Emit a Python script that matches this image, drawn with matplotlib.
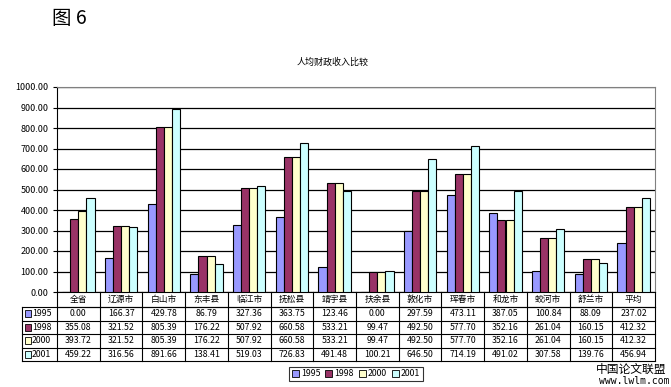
import matplotlib.pyplot as plt
import matplotlib.patches as mpatches
import numpy as np

plt.rcParams['font.family'] = ['Noto Sans CJK SC', 'DejaVu Sans']

# data
regions = ['全省', '辽源市', '白山市', '东丰县', '临江市', '抚松县', '靖宇县',
           '扶余县', '敦化市', '珲春市', '和龙市', '蛟河市', '舒兰市', '平均']
years = ['1995', '1998', '2000', '2001']
v1995 = [0.00, 166.37, 429.78, 86.79, 327.36, 363.75, 123.46,
         0.00, 297.59, 473.11, 387.05, 100.84, 88.09, 237.02]
v1998 = [355.08, 321.52, 805.39, 176.22, 507.92, 660.58, 533.21,
         99.47, 492.50, 577.70, 352.16, 261.04, 160.15, 412.32]
v2000 = [393.72, 321.52, 805.39, 176.22, 507.92, 660.58, 533.21,
         99.47, 492.50, 577.70, 352.16, 261.04, 160.15, 412.32]
v2001 = [459.22, 316.56, 891.66, 138.41, 519.03, 726.83, 491.48,
         100.21, 646.50, 714.19, 491.02, 307.58, 139.76, 456.94]
series = [v1995, v1998, v2000, v2001]
colors = ['#9999FF', '#993366', '#FFFFCC', '#CCFFFF']

W, H = 671, 387
fig = plt.figure(figsize=(W / 100, H / 100), dpi=100)
fig.patch.set_facecolor('white')
ax = fig.add_axes([57 / W, (H - 292) / H, 598 / W, 205 / H])

n = len(regions)
x = np.arange(n)
bw = 0.19
for k, (vals, c) in enumerate(zip(series, colors)):
    ax.bar(x + (k - 1.5) * bw, vals, bw, color=c, edgecolor='black',
           linewidth=0.8, zorder=3)

ax.set_xlim(-0.5, n - 0.5)
ax.set_ylim(0, 1000)
ax.set_yticks(np.arange(0, 1001, 100))
ax.set_yticklabels([f'{t:.2f}' for t in np.arange(0, 1001, 100)], fontsize=6.5)
ax.set_xticks([])
ax.grid(axis='y', color='black', linewidth=0.9, zorder=0)
ax.tick_params(axis='y', length=3, pad=3)
ax.spines['top'].set_color('#808080')
ax.spines['right'].set_color('#808080')
ax.spines['left'].set_color('black')
ax.spines['bottom'].set_color('black')

# data table under the plot (axes fraction coords)
def fy(p):
    return (292 - p) / 205.0

rows_y = [292, 307, 320.5, 334, 347.5, 361]
left = (22 - 57) / 598.0
tr = ax.transAxes
lk = dict(transform=tr, color='black', linewidth=0.8, clip_on=False)
# horizontal lines
ax.plot([0, 1], [fy(rows_y[1])] * 2, **lk)
for yy in rows_y[1:]:
    ax.plot([left, 1], [fy(yy)] * 2, **lk)
# vertical lines
for i in range(n + 1):
    ax.plot([i / n, i / n], [0, fy(rows_y[-1])], **lk)
ax.plot([left, left], [fy(rows_y[1]), fy(rows_y[-1])], **lk)

tk = dict(transform=tr, fontsize=6.3, ha='center', va='center', clip_on=False)
for i, name in enumerate(regions):
    ax.text((i + 0.5) / n, fy((rows_y[0] + rows_y[1]) / 2), name, **tk)
    for r, vals in enumerate(series):
        yc = fy((rows_y[r + 1] + rows_y[r + 2]) / 2)
        ax.text((i + 0.5) / n, yc, f'{vals[i]:.2f}', **tk)

for r, (yr, c) in enumerate(zip(years, colors)):
    yc = fy((rows_y[r + 1] + rows_y[r + 2]) / 2)
    sq = mpatches.Rectangle((left + 3 / 598, yc - 3.5 / 205), 6 / 598, 7 / 205,
                            transform=tr, facecolor=c, edgecolor='black',
                            linewidth=0.6, clip_on=False)
    ax.add_patch(sq)
    ax.text(left + 10 / 598, yc, yr, transform=tr, fontsize=6.3,
            ha='left', va='center', clip_on=False)

# legend
handles = [mpatches.Patch(facecolor=c, edgecolor='black', linewidth=0.6, label=y)
           for y, c in zip(years, colors)]
leg = fig.legend(handles=handles, loc='center', bbox_to_anchor=(356 / W, 1 - 374 / H),
                 ncol=4, fontsize=6.3, frameon=True, fancybox=False,
                 handlelength=0.8, handleheight=0.8, handletextpad=0.2,
                 columnspacing=0.6, borderpad=0.3, borderaxespad=0)
leg.get_frame().set_edgecolor('black')
leg.get_frame().set_linewidth(0.8)

# titles
fig.text(52 / W, 1 - 19 / H, '图 6', fontsize=14, ha='left', va='center')
fig.text(333 / W, 1 - 62 / H, '人均财政收入比较', fontsize=6.5, ha='center', va='center')

# watermark
fig.text(631 / W, 1 - 369 / H, '中国论文联盟', fontsize=8.5, ha='center', va='center')
fig.text(634 / W, 1 - 381 / H, 'www.lwlm.com', fontsize=7, ha='center', va='center',
         family='DejaVu Sans Mono')

fig.savefig('out.png', dpi=100, facecolor='white')
